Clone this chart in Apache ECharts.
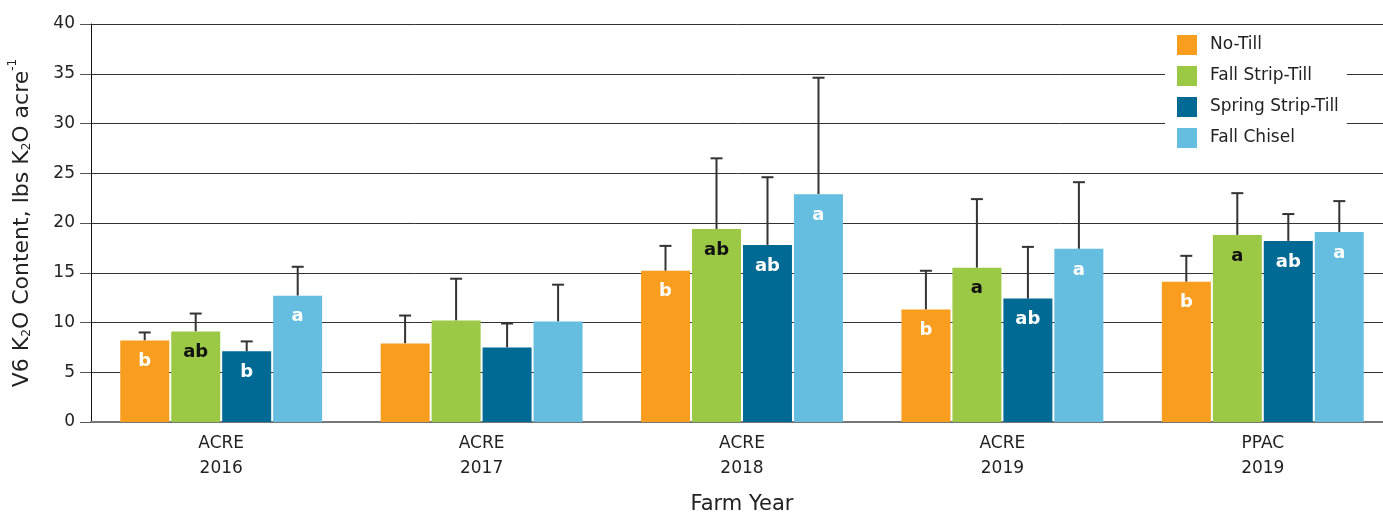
<!DOCTYPE html>
<html>
<head>
<meta charset="utf-8">
<script src="https://cdn.jsdelivr.net/npm/echarts@6/dist/echarts.min.js"></script>
<style>
  html, body { margin: 0; padding: 0; background: #fff; }
  #chart { width: 1383px; height: 513px; }
</style>
</head>
<body>
<div id="chart"></div>
<script>
// farm years (x axis)
var categories = ['ACRE\n2016', 'ACRE\n2017', 'ACRE\n2018', 'ACRE\n2019', 'PPAC\n2019']
var seriesNames = ['No-Till', 'Fall Strip-Till', 'Spring Strip-Till', 'Fall Chisel']
var colors = ['#F89D1E', '#9BC845', '#006994', '#65BDE0']

// mean values
var noTill = [8.2, 7.9, 15.2, 11.3, 14.1]
var fallStrip = [9.1, 10.2, 19.4, 15.5, 18.8]
var springStrip = [7.1, 7.5, 17.8, 12.4, 18.2]
var fallChisel = [12.7, 10.1, 22.9, 17.4, 19.1]

// top of error bars
var noTillErr = [9.0, 10.7, 17.7, 15.2, 16.7]
var fallStripErr = [10.9, 14.4, 26.5, 22.4, 23.0]
var springStripErr = [8.1, 9.9, 24.6, 17.6, 20.9]
var fallChiselErr = [15.6, 13.8, 34.6, 24.1, 22.2]

// significance letters
var noTillSig = ['b', '', 'b', 'b', 'b']
var fallStripSig = ['ab', '', 'ab', 'a', 'a']
var springStripSig = ['b', '', 'ab', 'ab', 'ab']
var fallChiselSig = ['a', '', 'a', 'a', 'a']

var values = [noTill, fallStrip, springStrip, fallChisel]
var errs = [noTillErr, fallStripErr, springStripErr, fallChiselErr]
var sigs = [noTillSig, fallStripSig, springStripSig, fallChiselSig]
var labelColors = ['#fff', '#111', '#fff', '#fff']

var BAR_W = 49
var STEP = 51

var FONT = '"DejaVu Sans", sans-serif'

var myChart = echarts.init(document.getElementById('chart'))

var series = []
values.forEach(function (vals, i) {
  series.push({
    name: seriesNames[i],
    type: 'bar',
    barWidth: BAR_W,
    barGap: '4%',
    itemStyle: { color: colors[i] },
    z: 2,
    label: {
      show: true,
      position: 'insideTop',
      distance: 12,
      color: labelColors[i],
      fontSize: 18,
      fontWeight: 'bold',
      fontFamily: FONT,
      formatter: function (p) { return sigs[i][p.dataIndex] }
    },
    data: vals
  })
})

// error bars drawn with custom series
errs.forEach(function (e, i) {
  var offset = (i - 1.5) * STEP
  series.push({
    name: seriesNames[i] + ' err',
    type: 'custom',
    z: 1,
    silent: true,
    renderItem: function (params, api) {
      var lo = api.coord([api.value(0), api.value(1)])
      var hi = api.coord([api.value(0), api.value(2)])
      var x = lo[0] + offset
      var style = { stroke: '#333', lineWidth: 2 }
      return {
        type: 'group',
        children: [
          { type: 'line', shape: { x1: x, y1: lo[1], x2: x, y2: hi[1] }, style: style },
          { type: 'line', shape: { x1: x - 6, y1: hi[1], x2: x + 6, y2: hi[1] }, style: style }
        ]
      }
    },
    data: e.map(function (v, k) { return [k, values[i][k], v] })
  })
})

var option = {
  animation: false,
  textStyle: { fontFamily: FONT },
  grid: { left: 91, right: -10, top: 24, bottom: 91, outerBoundsMode: 'none' },
  legend: {
    data: seriesNames,
    orient: 'vertical',
    left: 1165,
    top: 27,
    itemWidth: 20,
    itemHeight: 20,
    itemGap: 11,
    padding: [8, 8, 8, 12],
    backgroundColor: '#fff',
    icon: 'rect',
    textStyle: { fontSize: 17, color: '#222', fontFamily: FONT, padding: [0, 0, 0, 8] }
  },
  xAxis: {
    type: 'category',
    data: categories,
    name: 'Farm Year',
    nameLocation: 'middle',
    nameGap: 72,
    nameTextStyle: { fontSize: 21, color: '#222', fontFamily: FONT },
    axisLine: { lineStyle: { color: '#777', width: 2 } },
    axisTick: { length: 10, lineStyle: { color: '#555' } },
    axisLabel: { fontSize: 17, color: '#222', lineHeight: 25, margin: 9 }
  },
  yAxis: {
    type: 'value',
    min: 0,
    max: 40,
    interval: 5,
    name: '{n|V6 K}{sub|2}{n|O Content, lbs K}{sub|2}{n|O acre}{sup|-1}',
    nameLocation: 'middle',
    nameRotate: 90,
    nameGap: 58,
    nameTextStyle: {
      rich: {
        n: { fontSize: 22, color: '#222', fontFamily: FONT, lineHeight: 26, verticalAlign: 'bottom' },
        sub: { fontSize: 12, color: '#222', fontFamily: FONT, lineHeight: 26, verticalAlign: 'bottom' },
        sup: { fontSize: 12, color: '#222', fontFamily: FONT, lineHeight: 26, verticalAlign: 'top' }
      }
    },
    axisLine: { show: true, lineStyle: { color: '#111', width: 1 } },
    axisTick: { show: true, length: 11, lineStyle: { color: '#555' } },
    axisLabel: { fontSize: 17, color: '#222', margin: 16 },
    splitLine: { lineStyle: { color: '#333', width: 1 } }
  },
  series: series
}

myChart.setOption(option, true)
</script>
</body>
</html>
